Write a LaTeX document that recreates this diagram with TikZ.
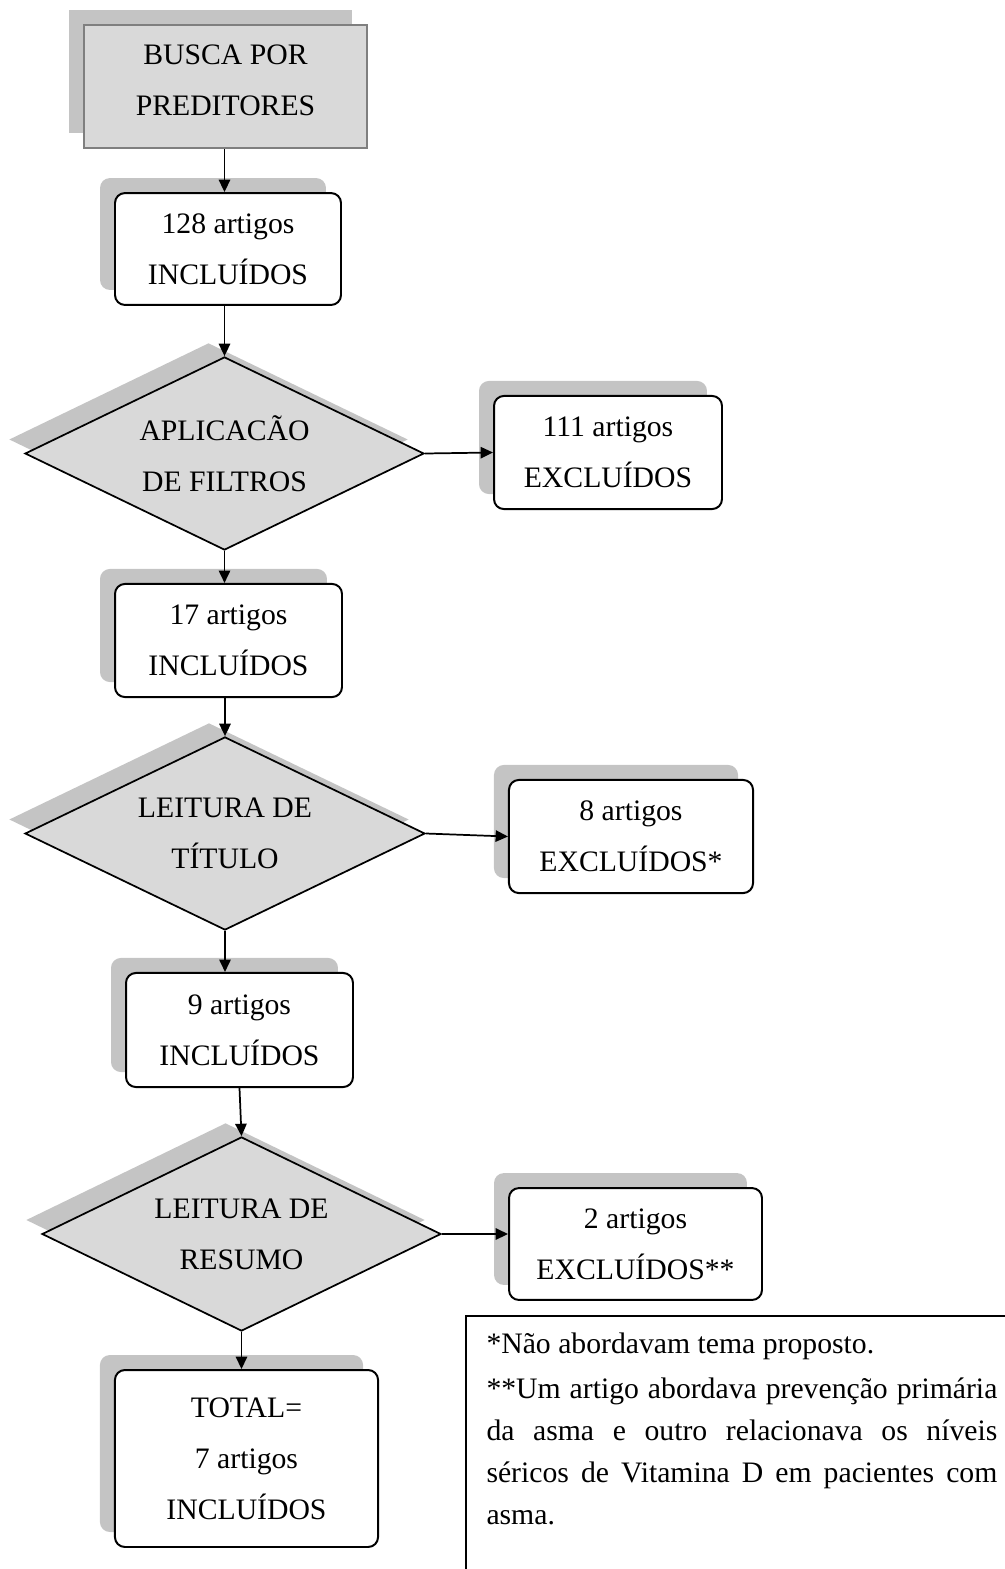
\documentclass[tikz,border=0pt]{standalone}
\usepackage{fontspec}
\setmainfont{Liberation Serif}
\usetikzlibrary{shapes.geometric,arrows.meta,shadows}
\definecolor{shfill}{HTML}{C4C4C4}
\definecolor{boxgray}{HTML}{D9D9D9}
\definecolor{edgegray}{HTML}{7F7F7F}
\begin{document}
\begin{tikzpicture}[x=0.404pt,y=-0.404pt,
  every node/.style={font=\fontsize{12}{20.6}\selectfont, align=center, inner sep=0pt},
  sh/.style={general shadow={draw=none, fill=shfill, shadow xshift=-6.06pt, shadow yshift=6.06pt}},
  dsh/.style={general shadow={draw=none, fill=shfill, shadow xshift=-6.46pt, shadow yshift=5.66pt}},
  graybox/.style={rectangle, draw=edgegray, line width=0.8pt, fill=boxgray, sh},
  rbox/.style={rectangle, draw, line width=0.8pt, fill=white, rounded corners=4pt, sh},
  dbox/.style={diamond, aspect=2.07, draw, line width=0.7pt, fill=boxgray, dsh},
  arr/.style={-{Triangle[length=5pt,width=4.6pt]}, line width=0.7pt}
]
\useasboundingbox (0,0) rectangle (1005,1569);

\node[graybox, minimum width=114.3pt, minimum height=49.7pt,
  label={[yshift=2.5pt]center:{BUSCA POR\\PREDITORES}}] (b1) at (225.5,86.5) {};
\node[rbox, minimum width=91.3pt, minimum height=45.2pt] (b2) at (228,249) {128 artigos\\INCLUÍDOS};
\node[dbox, minimum width=161.2pt, minimum height=78pt] (d1) at (224.5,453.5) {APLICACÃO\\DE FILTROS};
\node[rbox, minimum width=92.1pt, minimum height=45.7pt] (b3) at (608,452.5) {111 artigos\\EXCLUÍDOS};
\node[rbox, minimum width=91.7pt, minimum height=45.7pt] (b4) at (228.5,640.5) {17 artigos\\INCLUÍDOS};
\node[dbox, minimum width=161.6pt, minimum height=78pt] (d2) at (225,833.5) {LEITURA DE\\TÍTULO};
\node[rbox, minimum width=98.6pt, minimum height=45.7pt] (b5) at (631,836.5) {8 artigos\\EXCLUÍDOS*};
\node[rbox, minimum width=91.7pt, minimum height=46.1pt] (b6) at (239.5,1030) {9 artigos\\INCLUÍDOS};
\node[dbox, minimum width=161.2pt, minimum height=78.4pt] (d3) at (241.5,1234) {LEITURA DE\\RESUMO};
\node[rbox, minimum width=102.2pt, minimum height=45.2pt] (b7) at (635.5,1244) {2 artigos\\EXCLUÍDOS**};
\node[rbox, minimum width=106.3pt, minimum height=71.5pt] (b8) at (246.5,1458.5) {TOTAL=\\7 artigos\\INCLUÍDOS};

\node[draw, line width=0.9pt, anchor=north west, minimum width=226pt, minimum height=109pt] (notebox) at (465,1315) {};
\node[anchor=north west, align=left, font=\fontsize{12}{17}\selectfont] (notetext) at (486,1332)
  {*Não abordavam tema proposto.\\[1.4pt]
   \makebox[206.4pt][s]{**Um artigo abordava prevenção primária}\\
   \makebox[206.4pt][s]{da asma e outro relacionava os níveis}\\
   \makebox[206.4pt][s]{séricos de Vitamina D em pacientes com}\\
   asma.};

\draw[arr] (b1.south -| d1.north) -- (b2.north -| d1.north);
\draw[arr] (b2.south -| d1.north) -- (d1.north);
\draw[arr] (d1.east) -- (b3.west);
\draw[arr] (d1.south) -- (d1.south |- b4.north);
\draw[arr] (b4.south -| d2.north) -- (d2.north);
\draw[arr] (d2.east) -- (b5.west);
\draw[arr] (d2.south) -- (d2.south |- b6.north);
\draw[arr] (b6.south) -- (d3.north);
\draw[arr] (d3.east) -- (d3.east -| b7.west);
\draw[arr] (d3.south) -- (d3.south |- b8.north);
\end{tikzpicture}
\end{document}
